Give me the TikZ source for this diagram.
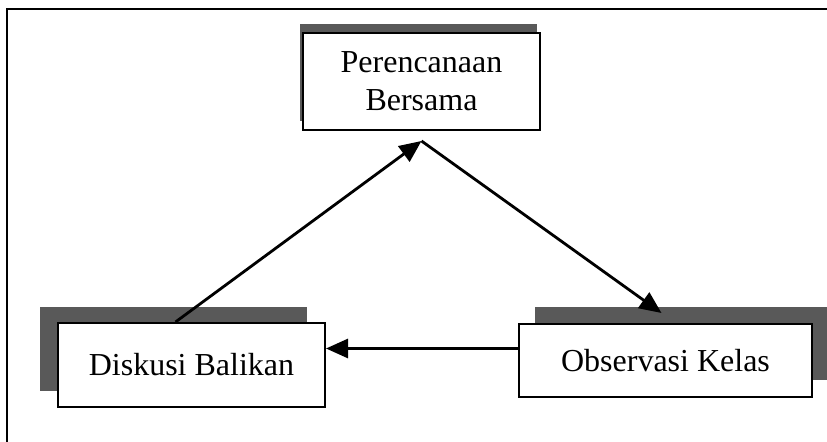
\documentclass[tikz,border=0pt]{standalone}
\usepackage{fontspec}
\setmainfont{Liberation Serif}
\usepackage{tikz}
\usetikzlibrary{shapes,arrows.meta}
\tikzstyle{block} = [rectangle, draw, line width=1pt, fill=white, text centered, align=center, inner sep=0pt, font=\fontsize{16}{19}\selectfont]
\tikzstyle{line} = [draw, line width=1.4pt, -{Triangle[length=11pt,width=9.5pt]}]
\tikzset{shade/.style={preaction={draw=none, fill=black!65, transform canvas={shift={(#1)}}}}}

\begin{document}
\begin{tikzpicture}[x=0.5pt,y=-0.5pt]
\useasboundingbox (0,0) rectangle (827,442);
\draw [line width=0.8pt] (827,9) -- (7,9) -- (7,442);

\node [block, minimum width=118.5pt, minimum height=48.5pt, shade={-3,-9}] (rencana) at (421.5,81.5) {Perencanaan\\Bersama};
\node [block, minimum width=133.5pt, minimum height=42pt, shade={-18,-16}] (diskusi) at (191.5,365) {Diskusi Balikan};
\node [block, minimum width=146.5pt, minimum height=36.5pt, shade={16,-17}] (observasi) at (665.5,360.5) {Observasi Kelas};

\coordinate (apex) at ([yshift=-5pt]rencana.south);

\path [line] ([xshift=-8pt]diskusi.north) -- (apex);
\path [line] (apex) -- ([xshift=-2pt,yshift=5pt]observasi.north);
\path [line] ([yshift=6pt]observasi.west) -- ([yshift=6pt]observasi.west -| diskusi.east);

\end{tikzpicture}
\end{document}
